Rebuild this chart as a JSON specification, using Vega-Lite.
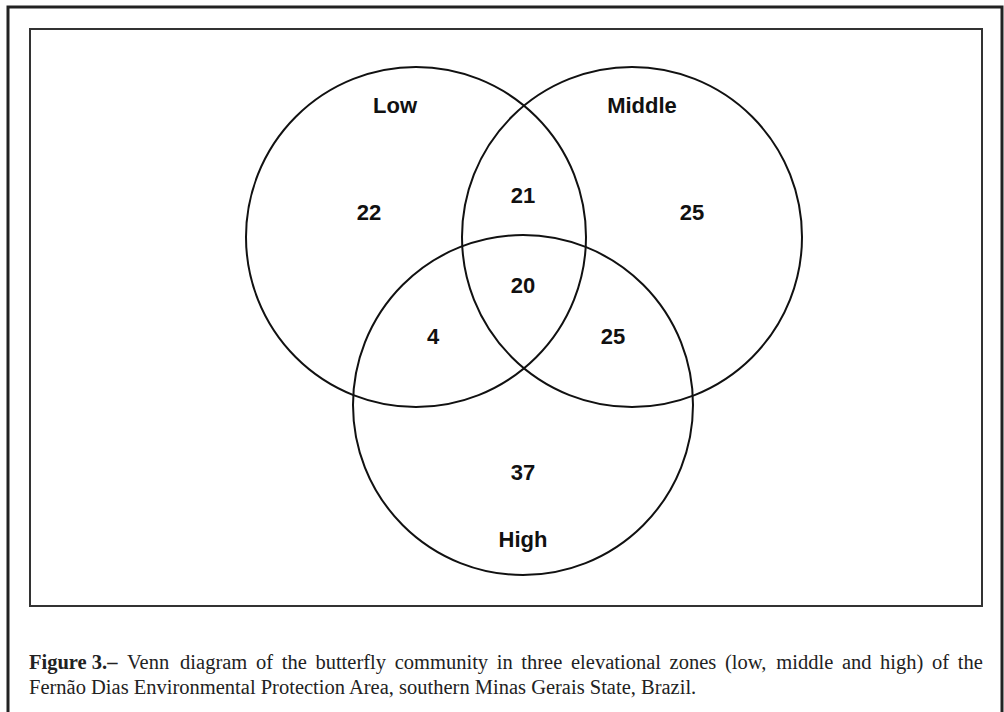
{
  "$schema": "https://vega.github.io/schema/vega-lite/v6.json",
  "width": 952,
  "height": 577,
  "autosize": {"type": "none"},
  "padding": {"left": 30, "top": 29, "right": 22, "bottom": 106},
  "background": "white",
  "config": {"view": {"stroke": "#333", "strokeWidth": 2}},
  "datasets": {
    "circles": [
      {"set": "Low", "cx": 386, "cy": 208, "r": 170},
      {"set": "Middle", "cx": 602, "cy": 208, "r": 170},
      {"set": "High", "cx": 493, "cy": 376, "r": 170}
    ],
    "labels": [
      {"label": "Low", "x": 365, "y": 84},
      {"label": "Middle", "x": 612, "y": 84},
      {"label": "22", "x": 339, "y": 191},
      {"label": "21", "x": 493, "y": 174},
      {"label": "25", "x": 662, "y": 191},
      {"label": "20", "x": 493, "y": 264},
      {"label": "4", "x": 403, "y": 315},
      {"label": "25", "x": 583, "y": 315},
      {"label": "37", "x": 493, "y": 451},
      {"label": "High", "x": 493, "y": 518}
    ],
    "frame": [{"x1": -22, "x2": 972, "y1": -22, "y2": 720}],
    "captionBold": [{"text": "Figure 3.–", "x": -1, "y": 640}],
    "caption": [
      {"text": "Venn", "x": 97, "y": 640},
      {"text": "diagram", "x": 150.1, "y": 640},
      {"text": "of", "x": 225.9, "y": 640},
      {"text": "the", "x": 251.7, "y": 640},
      {"text": "butterfly", "x": 285.4, "y": 640},
      {"text": "community", "x": 364.7, "y": 640},
      {"text": "in", "x": 466.8, "y": 640},
      {"text": "three", "x": 491.3, "y": 640},
      {"text": "elevational", "x": 541.0, "y": 640},
      {"text": "zones", "x": 639.6, "y": 640},
      {"text": "(low,", "x": 695.0, "y": 640},
      {"text": "middle", "x": 746.3, "y": 640},
      {"text": "and", "x": 811.9, "y": 640},
      {"text": "high)", "x": 850.1, "y": 640},
      {"text": "of", "x": 902.1, "y": 640},
      {"text": "the", "x": 927.8, "y": 640},
      {"text": "Fernão Dias Environmental Protection Area, southern Minas Gerais State, Brazil.", "x": -1, "y": 665}
    ]
  },
  "layer": [
    {
      "data": {"name": "frame"},
      "mark": {"type": "rect", "fill": null, "stroke": "#222", "strokeWidth": 3, "clip": false},
      "encoding": {
        "x": {"field": "x1", "type": "quantitative", "scale": {"domain": [0, 952], "nice": false, "zero": false}, "axis": null},
        "x2": {"field": "x2"},
        "y": {"field": "y1", "type": "quantitative", "scale": {"domain": [0, 577], "nice": false, "zero": false, "reverse": true}, "axis": null},
        "y2": {"field": "y2"}
      }
    },
    {
      "data": {"name": "circles"},
      "mark": {"type": "point", "shape": "circle", "filled": false, "stroke": "#111", "strokeWidth": 2, "opacity": 1},
      "encoding": {
        "x": {"field": "cx", "type": "quantitative"},
        "y": {"field": "cy", "type": "quantitative"},
        "size": {"field": "r", "type": "quantitative", "scale": {"type": "pow", "exponent": 2, "domain": [0, 170], "range": [0, 115600]}, "legend": null}
      }
    },
    {
      "data": {"name": "labels"},
      "mark": {"type": "text", "font": "Liberation Sans", "fontWeight": "bold", "fontSize": 22, "align": "center", "baseline": "alphabetic", "color": "#111"},
      "encoding": {
        "x": {"field": "x", "type": "quantitative"},
        "y": {"field": "y", "type": "quantitative"},
        "text": {"field": "label"}
      }
    },
    {
      "data": {"name": "captionBold"},
      "mark": {"type": "text", "font": "Liberation Serif", "fontWeight": "bold", "fontSize": 20.5, "align": "left", "baseline": "alphabetic", "color": "#222"},
      "encoding": {
        "x": {"field": "x", "type": "quantitative"},
        "y": {"field": "y", "type": "quantitative"},
        "text": {"field": "text"}
      }
    },
    {
      "data": {"name": "caption"},
      "mark": {"type": "text", "font": "Liberation Serif", "fontSize": 20.5, "align": "left", "baseline": "alphabetic", "color": "#222"},
      "encoding": {
        "x": {"field": "x", "type": "quantitative"},
        "y": {"field": "y", "type": "quantitative"},
        "text": {"field": "text"}
      }
    }
  ]
}
